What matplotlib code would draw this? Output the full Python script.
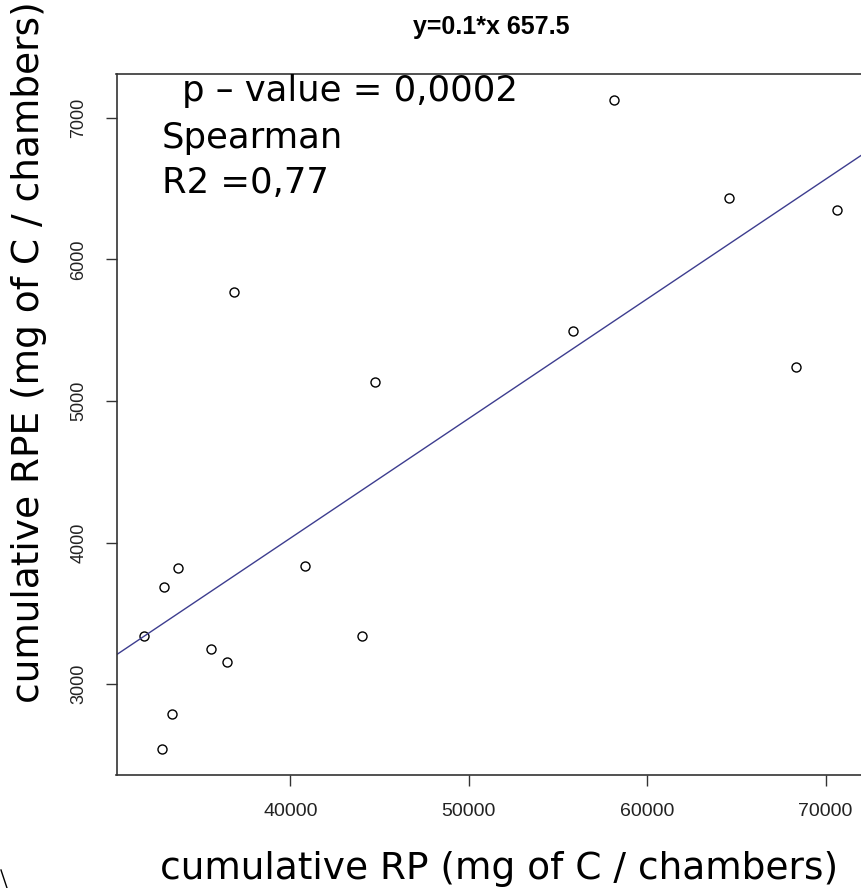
import matplotlib.pyplot as plt
import numpy as np

# cumulative RP vs cumulative RPE, one point per chamber
rp = [31807, 32890, 33676, 33339, 32817, 35527, 36448, 40825,
      44001, 36857, 44770, 55825, 58143, 64579, 70657, 68339]
rpe = [3341, 3687, 3819, 2788, 2543, 3251, 3155, 3837,
       3339, 5770, 5134, 5495, 7125, 6435, 6348, 5240]

x_ticks = [40000, 50000, 60000, 70000]
y_ticks = [3000, 4000, 5000, 6000, 7000]

title = "y=0.1*x 657.5"
notes = ["p \u2013 value = 0,0002", "Spearman", "R2 =0,77"]

W, H = 861, 888
fig = plt.figure(figsize=(W / 100, H / 100), dpi=100)

# axes box in pixels (the right edge runs just past the picture)
left, right, top, bottom = 116.5, 865, 74, 775
ax = fig.add_axes([left / W, 1 - bottom / H, (right - left) / W, (bottom - top) / H])

x = np.array(rp)
y = np.array(rpe)
ax.plot(x, y, 'o', ms=6.5, mfc='none', mec='black', mew=1.0)

# least squares line, like abline(lm(y ~ x)) in R
slope, icpt = np.polyfit(x, y, 1)
ax.axline((0, icpt), slope=slope, color='#3d3d8f', lw=1.0)

# R style 4% padding
xr = x.max() - x.min()
yr = y.max() - y.min()
ax.set_xlim(x.min() - 0.04 * xr, x.max() + 0.04 * xr)
ax.set_ylim(y.min() - 0.04 * yr, y.max() + 0.04 * yr)

ax.set_xticks(x_ticks)
ax.set_xticklabels([str(t) for t in x_ticks], fontsize=14, family='Liberation Sans', color='#222222')
ax.set_yticks(y_ticks)
ax.set_yticklabels([str(t) for t in y_ticks], fontsize=13, family='Liberation Sans',
                   color='#222222', rotation=90, va='center')
ax.tick_params(axis='x', length=8, width=1, pad=12, colors='#333333', labelcolor='#222222')
ax.tick_params(axis='y', length=8, width=1, pad=13, colors='#333333', labelcolor='#222222')

for s in ['left', 'bottom', 'top', 'right']:
    ax.spines[s].set_color('#333333')
    ax.spines[s].set_linewidth(1.2)

fig.text((left + right) / 2 / W, 1 - 27 / H, title, fontsize=18, fontweight='bold',
         family='Liberation Sans', ha='center', va='center')

# annotations
fig.text(182 / W, 1 - 101 / H, notes[0], fontsize=25.5, family='DejaVu Sans', ha='left', va='baseline')
fig.text(162 / W, 1 - 148 / H, notes[1], fontsize=25.5, family='DejaVu Sans', ha='left', va='baseline')
fig.text(162 / W, 1 - 193 / H, notes[2], fontsize=25.5, family='DejaVu Sans', ha='left', va='baseline')

# axis titles
fig.text(499.5 / W, 1 - 879 / H, "cumulative RP (mg of C / chambers)", fontsize=27,
         family='DejaVu Sans', ha='center', va='baseline')
fig.text(29 / W, 1 - 352 / H, "cumulative RPE (mg of C / chambers)", fontsize=27,
         family='DejaVu Sans', ha='center', va='center', rotation=90)

# small stroke in the bottom-left corner
fig.add_artist(plt.Line2D([1 / W, 7 / W], [1 - 870 / H, 0], color='black', lw=1))

fig.savefig('out.png', dpi=100)
